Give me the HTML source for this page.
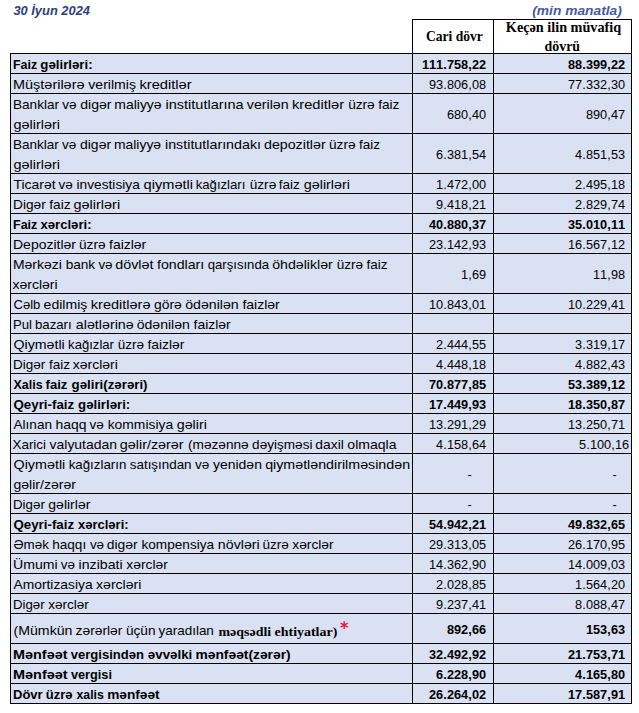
<!DOCTYPE html><html><head><meta charset="utf-8"><title>t</title><style>

html,body{margin:0;padding:0;background:#fff;}
body{width:639px;height:713px;position:relative;overflow:hidden;font-family:"Liberation Sans",sans-serif;color:#000;}
.abs{position:absolute;}
.row{position:absolute;left:10px;width:622px;background:#d9e1f2;border-top:1px solid #000;box-sizing:border-box;}
.c{position:absolute;top:0;bottom:0;box-sizing:border-box;white-space:nowrap;font-size:13.4px;}
.c1{left:0;width:402px;border-left:1px solid #000;padding-left:2px;}
.w{display:inline-block;white-space:nowrap;vertical-align:top;text-align:left;}
.w span{display:inline-block;transform-origin:0 50%;}
.c2{left:402px;width:81px;border-left:1px solid #000;text-align:right;padding-right:6px;}
.c3{left:483px;width:139px;border-left:1px solid #000;border-right:1px solid #000;text-align:right;padding-right:5px;}
.b{font-weight:bold;}
.n{position:absolute;top:1px;white-space:nowrap;font-size:13.4px;}
.n i,.n u{display:inline-block;font-style:normal;text-decoration:none;text-align:center;transform:scaleX(0.95);}
.n i{width:11px;margin:0 -2px;}
.n u{width:8px;margin:0 -2px;}
.t{display:inline-block;transform-origin:0 50%;position:relative;top:1px;}
.r .t{transform-origin:100% 50%;}
.hd{position:absolute;box-sizing:border-box;border:1px solid #000;border-bottom:none;background:#fff;font-family:"Liberation Serif",serif;font-weight:bold;font-size:14px;text-align:center;white-space:nowrap;}
.hl{position:absolute;left:0;right:0;line-height:16px;height:16px;text-align:center;transform-origin:50% 50%;}

</style></head><body>
<div class="abs" style="left:13px;top:2.7px;font-size:13.4px;font-weight:bold;font-style:italic;color:#2c3e80;white-space:nowrap;"><span class="t" id="title" style="top:0;transform:translateX(0.40px) scaleX(0.9612);">30 İyun 2024</span></div>
<div class="abs" style="left:532px;top:3px;font-size:13.4px;font-weight:bold;font-style:italic;color:#4559a2;white-space:nowrap;"><span class="t" id="unit" style="top:0;transform:translateX(0.20px) scaleX(1.0296);">(min manatla)</span></div>
<div class="hd" style="left:412px;top:19px;width:82px;height:34px;"><span class="hl" id="h1" style="top:9.3px;transform:translateX(1.40px) scaleX(0.9671);">Cari dövr</span></div>
<div class="hd" style="left:493px;top:19px;width:139px;height:34px;"><span class="hl" id="h2a" style="top:0.2px;transform:translateX(1.00px) scaleX(1.0159);">Keçən ilin müvafiq</span><span class="hl" id="h2b" style="top:19.2px;transform:translateX(-0.20px) scaleX(0.9919);">dövrü</span></div>
<div class="row b" style="top:53px;height:20px;">
<div class="c c1" style="line-height:19px;"><div style="height:20px"><span class="t" id="a0" style="transform:translateX(0.00px) scaleX(1.0117);"><span class="w" style="width:27.33px"><span style="transform:scaleX(0.9187)">Faiz</span></span><span class="w" style="width:51.69px"><span style="transform:scaleX(0.9776)">gəlirləri:</span></span></span></div></div>
<div class="n" id="b0" style="right:146px;line-height:19px;"><i>1</i><i>1</i><i>1</i><u>.</u><i>7</i><i>5</i><i>8</i><u>,</u><i>2</i><i>2</i></div>
<div class="n" id="c0" style="right:6.6px;line-height:19px;"><i>8</i><i>8</i><u>.</u><i>3</i><i>9</i><i>9</i><u>,</u><i>2</i><i>2</i></div>
<div class="c c2"></div><div class="c c3"></div>
</div>
<div class="row" style="top:73px;height:20px;">
<div class="c c1" style="line-height:19px;"><div style="height:20px"><span class="t" id="a1" style="transform:translateX(0.00px) scaleX(1.0033);"><span class="w" style="width:74.72px"><span style="transform:scaleX(1.0763)">Müştərilərə</span></span><span class="w" style="width:51.04px"><span style="transform:scaleX(1.0492)">verilmiş</span></span><span class="w" style="width:51.99px"><span style="transform:scaleX(1.0910)">kreditlər</span></span></span></div></div>
<div class="n" id="b1" style="right:146px;line-height:19px;"><i>9</i><i>3</i><u>.</u><i>8</i><i>0</i><i>6</i><u>,</u><i>0</i><i>8</i></div>
<div class="n" id="c1" style="right:6.6px;line-height:19px;"><i>7</i><i>7</i><u>.</u><i>3</i><i>3</i><i>2</i><u>,</u><i>3</i><i>0</i></div>
<div class="c c2"></div><div class="c c3"></div>
</div>
<div class="row" style="top:93px;height:40px;">
<div class="c c1" style="line-height:19px;"><div style="height:20px"><span class="t" id="a2" style="transform:translateX(0.00px) scaleX(1.0034);"><span class="w" style="width:49.29px"><span style="transform:scaleX(1.0103)">Banklar</span></span><span class="w" style="width:17.63px"><span style="transform:scaleX(1.0061)">və</span></span><span class="w" style="width:34.47px"><span style="transform:scaleX(1.0430)">digər</span></span><span class="w" style="width:50.49px"><span style="transform:scaleX(1.0368)">maliyyə</span></span><span class="w" style="width:81.34px"><span style="transform:scaleX(1.0790)">institutlarına</span></span><span class="w" style="width:45.09px"><span style="transform:scaleX(1.0563)">verilən</span></span><span class="w" style="width:55.39px"><span style="transform:scaleX(1.0910)">kreditlər</span></span><span class="w" style="width:29.89px"><span style="transform:scaleX(1.0166)">üzrə</span></span><span class="w" style="width:21.13px"><span style="transform:scaleX(1.0133)">faiz</span></span></span></div><div style="height:20px"><span class="t" id="a2_1" style="transform:translateX(0.50px) scaleX(1.0047);"><span class="w" style="width:46.22px"><span style="transform:scaleX(1.0701)">gəlirləri</span></span></span></div></div>
<div class="n" id="b2" style="right:146px;line-height:39px;"><i>6</i><i>8</i><i>0</i><u>,</u><i>4</i><i>0</i></div>
<div class="n" id="c2" style="right:6.6px;line-height:39px;"><i>8</i><i>9</i><i>0</i><u>,</u><i>4</i><i>7</i></div>
<div class="c c2"></div><div class="c c3"></div>
</div>
<div class="row" style="top:133px;height:40px;">
<div class="c c1" style="line-height:19px;"><div style="height:20px"><span class="t" id="a3" style="transform:translateX(0.00px) scaleX(1.0000);"><span class="w" style="width:49.29px"><span style="transform:scaleX(1.0103)">Banklar</span></span><span class="w" style="width:17.63px"><span style="transform:scaleX(1.0061)">və</span></span><span class="w" style="width:34.47px"><span style="transform:scaleX(1.0430)">digər</span></span><span class="w" style="width:50.49px"><span style="transform:scaleX(1.0368)">maliyyə</span></span><span class="w" style="width:99.48px"><span style="transform:scaleX(1.0663)">institutlarındakı</span></span><span class="w" style="width:65.05px"><span style="transform:scaleX(1.0613)">depozitlər</span></span><span class="w" style="width:29.89px"><span style="transform:scaleX(1.0166)">üzrə</span></span><span class="w" style="width:21.13px"><span style="transform:scaleX(1.0133)">faiz</span></span></span></div><div style="height:20px"><span class="t" id="a3_1" style="transform:translateX(0.50px) scaleX(1.0047);"><span class="w" style="width:46.22px"><span style="transform:scaleX(1.0701)">gəlirləri</span></span></span></div></div>
<div class="n" id="b3" style="right:146px;line-height:39px;"><i>6</i><u>.</u><i>3</i><i>8</i><i>1</i><u>,</u><i>5</i><i>4</i></div>
<div class="n" id="c3" style="right:6.6px;line-height:39px;"><i>4</i><u>.</u><i>8</i><i>5</i><i>1</i><u>,</u><i>5</i><i>3</i></div>
<div class="c c2"></div><div class="c c3"></div>
</div>
<div class="row" style="top:173px;height:20px;">
<div class="c c1" style="line-height:19px;"><div style="height:20px"><span class="t" id="a4" style="transform:translateX(0.50px) scaleX(1.0009);"><span class="w" style="width:45.39px"><span style="transform:scaleX(1.0381)">Ticarət</span></span><span class="w" style="width:17.63px"><span style="transform:scaleX(1.0061)">və</span></span><span class="w" style="width:66.57px"><span style="transform:scaleX(1.0221)">investisiya</span></span><span class="w" style="width:52.86px"><span style="transform:scaleX(1.0891)">qiymətli</span></span><span class="w" style="width:53.12px"><span style="transform:scaleX(0.9820)">kağızları</span></span><span class="w" style="width:29.89px"><span style="transform:scaleX(1.0166)">üzrə</span></span><span class="w" style="width:24.52px"><span style="transform:scaleX(1.0133)">faiz</span></span><span class="w" style="width:46.22px"><span style="transform:scaleX(1.0701)">gəlirləri</span></span></span></div></div>
<div class="n" id="b4" style="right:146px;line-height:19px;"><i>1</i><u>.</u><i>4</i><i>7</i><i>2</i><u>,</u><i>0</i><i>0</i></div>
<div class="n" id="c4" style="right:6.6px;line-height:19px;"><i>2</i><u>.</u><i>4</i><i>9</i><i>5</i><u>,</u><i>1</i><i>8</i></div>
<div class="c c2"></div><div class="c c3"></div>
</div>
<div class="row" style="top:193px;height:20px;">
<div class="c c1" style="line-height:19px;"><div style="height:20px"><span class="t" id="a5" style="transform:translateX(0.00px) scaleX(1.0087);"><span class="w" style="width:35.82px"><span style="transform:scaleX(1.0126)">Digər</span></span><span class="w" style="width:24.52px"><span style="transform:scaleX(1.0133)">faiz</span></span><span class="w" style="width:46.22px"><span style="transform:scaleX(1.0701)">gəlirləri</span></span></span></div></div>
<div class="n" id="b5" style="right:146px;line-height:19px;"><i>9</i><u>.</u><i>4</i><i>1</i><i>8</i><u>,</u><i>2</i><i>1</i></div>
<div class="n" id="c5" style="right:6.6px;line-height:19px;"><i>2</i><u>.</u><i>8</i><i>2</i><i>9</i><u>,</u><i>7</i><i>4</i></div>
<div class="c c2"></div><div class="c c3"></div>
</div>
<div class="row b" style="top:213px;height:20px;">
<div class="c c1" style="line-height:19px;"><div style="height:20px"><span class="t" id="a6" style="transform:translateX(0.00px) scaleX(1.0156);"><span class="w" style="width:27.33px"><span style="transform:scaleX(0.9187)">Faiz</span></span><span class="w" style="width:50.37px"><span style="transform:scaleX(0.9659)">xərcləri:</span></span></span></div></div>
<div class="n" id="b6" style="right:146px;line-height:19px;"><i>4</i><i>0</i><u>.</u><i>8</i><i>8</i><i>0</i><u>,</u><i>3</i><i>7</i></div>
<div class="n" id="c6" style="right:6.6px;line-height:19px;"><i>3</i><i>5</i><u>.</u><i>0</i><i>1</i><i>0</i><u>,</u><i>1</i><i>1</i></div>
<div class="c c2"></div><div class="c c3"></div>
</div>
<div class="row" style="top:233px;height:20px;">
<div class="c c1" style="line-height:19px;"><div style="height:20px"><span class="t" id="a7" style="transform:translateX(0.00px) scaleX(1.0000);"><span class="w" style="width:66.40px"><span style="transform:scaleX(1.0445)">Depozitlər</span></span><span class="w" style="width:29.89px"><span style="transform:scaleX(1.0166)">üzrə</span></span><span class="w" style="width:37.27px"><span style="transform:scaleX(1.0426)">faizlər</span></span></span></div></div>
<div class="n" id="b7" style="right:146px;line-height:19px;"><i>2</i><i>3</i><u>.</u><i>1</i><i>4</i><i>2</i><u>,</u><i>9</i><i>3</i></div>
<div class="n" id="c7" style="right:6.6px;line-height:19px;"><i>1</i><i>6</i><u>.</u><i>5</i><i>6</i><i>7</i><u>,</u><i>1</i><i>2</i></div>
<div class="c c2"></div><div class="c c3"></div>
</div>
<div class="row" style="top:253px;height:40px;">
<div class="c c1" style="line-height:19px;"><div style="height:20px"><span class="t" id="a8" style="transform:translateX(0.00px) scaleX(0.9931);"><span class="w" style="width:52.56px"><span style="transform:scaleX(1.0482)">Mərkəzi</span></span><span class="w" style="width:33.16px"><span style="transform:scaleX(1.0244)">bank</span></span><span class="w" style="width:17.63px"><span style="transform:scaleX(1.0061)">və</span></span><span class="w" style="width:41.89px"><span style="transform:scaleX(1.0766)">dövlət</span></span><span class="w" style="width:50.94px"><span style="transform:scaleX(1.0639)">fondları</span></span><span class="w" style="width:65.25px"><span style="transform:scaleX(0.9887)">qarşısında</span></span><span class="w" style="width:64.37px"><span style="transform:scaleX(1.0631)">öhdəliklər</span></span><span class="w" style="width:29.89px"><span style="transform:scaleX(1.0166)">üzrə</span></span><span class="w" style="width:21.13px"><span style="transform:scaleX(1.0133)">faiz</span></span></span></div><div style="height:20px"><span class="t" id="a8_1" style="transform:translateX(-0.50px) scaleX(1.0000);"><span class="w" style="width:45.11px"><span style="transform:scaleX(1.0446)">xərcləri</span></span></span></div></div>
<div class="n" id="b8" style="right:146px;line-height:39px;"><i>1</i><u>,</u><i>6</i><i>9</i></div>
<div class="n" id="c8" style="right:6.6px;line-height:39px;"><i>1</i><i>1</i><u>,</u><i>9</i><i>8</i></div>
<div class="c c2"></div><div class="c c3"></div>
</div>
<div class="row" style="top:293px;height:20px;">
<div class="c c1" style="line-height:19px;"><div style="height:20px"><span class="t" id="a9" style="transform:translateX(0.50px) scaleX(1.0039);"><span class="w" style="width:30.18px"><span style="transform:scaleX(0.9719)">Cəlb</span></span><span class="w" style="width:46.91px"><span style="transform:scaleX(1.0437)">edilmiş</span></span><span class="w" style="width:62.85px"><span style="transform:scaleX(1.0789)">kreditlərə</span></span><span class="w" style="width:31.05px"><span style="transform:scaleX(1.0315)">görə</span></span><span class="w" style="width:56.76px"><span style="transform:scaleX(1.0532)">ödənilən</span></span><span class="w" style="width:37.27px"><span style="transform:scaleX(1.0426)">faizlər</span></span></span></div></div>
<div class="n" id="b9" style="right:146px;line-height:19px;"><i>1</i><i>0</i><u>.</u><i>8</i><i>4</i><i>3</i><u>,</u><i>0</i><i>1</i></div>
<div class="n" id="c9" style="right:6.6px;line-height:19px;"><i>1</i><i>0</i><u>.</u><i>2</i><i>2</i><i>9</i><u>,</u><i>4</i><i>1</i></div>
<div class="c c2"></div><div class="c c3"></div>
</div>
<div class="row" style="top:313px;height:20px;">
<div class="c c1" style="line-height:19px;"><div style="height:20px"><span class="t" id="a10" style="transform:translateX(0.00px) scaleX(0.9974);"><span class="w" style="width:22.46px"><span style="transform:scaleX(0.9848)">Pul</span></span><span class="w" style="width:40.24px"><span style="transform:scaleX(0.9894)">bazarı</span></span><span class="w" style="width:61.43px"><span style="transform:scaleX(1.0673)">alətlərinə</span></span><span class="w" style="width:56.76px"><span style="transform:scaleX(1.0532)">ödənilən</span></span><span class="w" style="width:37.27px"><span style="transform:scaleX(1.0426)">faizlər</span></span></span></div></div>
<div class="n" id="b10" style="right:146px;line-height:19px;"></div>
<div class="n" id="c10" style="right:6.6px;line-height:19px;"></div>
<div class="c c2"></div><div class="c c3"></div>
</div>
<div class="row" style="top:333px;height:20px;">
<div class="c c1" style="line-height:19px;"><div style="height:20px"><span class="t" id="a11" style="transform:translateX(0.50px) scaleX(0.9922);"><span class="w" style="width:55.07px"><span style="transform:scaleX(1.0679)">Qiymətli</span></span><span class="w" style="width:49.68px"><span style="transform:scaleX(0.9866)">kağızlar</span></span><span class="w" style="width:29.89px"><span style="transform:scaleX(1.0166)">üzrə</span></span><span class="w" style="width:37.27px"><span style="transform:scaleX(1.0426)">faizlər</span></span></span></div></div>
<div class="n" id="b11" style="right:146px;line-height:19px;"><i>2</i><u>.</u><i>4</i><i>4</i><i>4</i><u>,</u><i>5</i><i>5</i></div>
<div class="n" id="c11" style="right:6.6px;line-height:19px;"><i>3</i><u>.</u><i>3</i><i>1</i><i>9</i><u>,</u><i>1</i><i>7</i></div>
<div class="c c2"></div><div class="c c3"></div>
</div>
<div class="row" style="top:353px;height:20px;">
<div class="c c1" style="line-height:19px;"><div style="height:20px"><span class="t" id="a12" style="transform:translateX(0.00px) scaleX(0.9973);"><span class="w" style="width:35.82px"><span style="transform:scaleX(1.0126)">Digər</span></span><span class="w" style="width:24.52px"><span style="transform:scaleX(1.0133)">faiz</span></span><span class="w" style="width:45.11px"><span style="transform:scaleX(1.0446)">xərcləri</span></span></span></div></div>
<div class="n" id="b12" style="right:146px;line-height:19px;"><i>4</i><u>.</u><i>4</i><i>4</i><i>8</i><u>,</u><i>1</i><i>8</i></div>
<div class="n" id="c12" style="right:6.6px;line-height:19px;"><i>4</i><u>.</u><i>8</i><i>8</i><i>2</i><u>,</u><i>4</i><i>3</i></div>
<div class="c c2"></div><div class="c c3"></div>
</div>
<div class="row b" style="top:373px;height:20px;">
<div class="c c1" style="line-height:19px;"><div style="height:20px"><span class="t" id="a13" style="transform:translateX(0.50px) scaleX(1.0021);"><span class="w" style="width:32.43px"><span style="transform:scaleX(0.9282)">Xalis</span></span><span class="w" style="width:25.20px"><span style="transform:scaleX(0.9761)">faiz</span></span><span class="w" style="width:75.79px"><span style="transform:scaleX(0.9881)">gəliri(zərəri)</span></span></span></div></div>
<div class="n" id="b13" style="right:146px;line-height:19px;"><i>7</i><i>0</i><u>.</u><i>8</i><i>7</i><i>7</i><u>,</u><i>8</i><i>5</i></div>
<div class="n" id="c13" style="right:6.6px;line-height:19px;"><i>5</i><i>3</i><u>.</u><i>3</i><i>8</i><i>9</i><u>,</u><i>1</i><i>2</i></div>
<div class="c c2"></div><div class="c c3"></div>
</div>
<div class="row b" style="top:393px;height:20px;">
<div class="c c1" style="line-height:19px;"><div style="height:20px"><span class="t" id="a14" style="transform:translateX(0.50px) scaleX(1.0094);"><span class="w" style="width:63.58px"><span style="transform:scaleX(0.9857)">Qeyri-faiz</span></span><span class="w" style="width:51.69px"><span style="transform:scaleX(0.9776)">gəlirləri:</span></span></span></div></div>
<div class="n" id="b14" style="right:146px;line-height:19px;"><i>1</i><i>7</i><u>.</u><i>4</i><i>4</i><i>9</i><u>,</u><i>9</i><i>3</i></div>
<div class="n" id="c14" style="right:6.6px;line-height:19px;"><i>1</i><i>8</i><u>.</u><i>3</i><i>5</i><i>0</i><u>,</u><i>8</i><i>7</i></div>
<div class="c c2"></div><div class="c c3"></div>
</div>
<div class="row" style="top:413px;height:20px;">
<div class="c c1" style="line-height:19px;"><div style="height:20px"><span class="t" id="a15" style="transform:translateX(0.50px) scaleX(1.0015);"><span class="w" style="width:41.90px"><span style="transform:scaleX(1.0136)">Alınan</span></span><span class="w" style="width:34.22px"><span style="transform:scaleX(1.0341)">haqq</span></span><span class="w" style="width:17.63px"><span style="transform:scaleX(1.0061)">və</span></span><span class="w" style="width:68.81px"><span style="transform:scaleX(1.0338)">kommisiya</span></span><span class="w" style="width:30.08px"><span style="transform:scaleX(1.0630)">gəliri</span></span></span></div></div>
<div class="n" id="b15" style="right:146px;line-height:19px;"><i>1</i><i>3</i><u>.</u><i>2</i><i>9</i><i>1</i><u>,</u><i>2</i><i>9</i></div>
<div class="n" id="c15" style="right:6.6px;line-height:19px;"><i>1</i><i>3</i><u>.</u><i>2</i><i>5</i><i>0</i><u>,</u><i>7</i><i>1</i></div>
<div class="c c2"></div><div class="c c3"></div>
</div>
<div class="row" style="top:433px;height:20px;">
<div class="c c1" style="line-height:19px;"><div style="height:20px"><span class="t" id="a16" style="transform:translateX(-0.50px) scaleX(1.0026);"><span class="w" style="width:36.82px"><span style="transform:scaleX(0.9976)">Xarici</span></span><span class="w" style="width:70.62px"><span style="transform:scaleX(1.0373)">valyutadan</span></span><span class="w" style="width:67.13px"><span style="transform:scaleX(1.0700)">gəlir/zərər</span></span><span class="w" style="width:64.00px"><span style="transform:scaleX(1.0171)">(məzənnə</span></span><span class="w" style="width:63.59px"><span style="transform:scaleX(1.0105)">dəyişməsi</span></span><span class="w" style="width:31.84px"><span style="transform:scaleX(1.0322)">daxil</span></span><span class="w" style="width:49.03px"><span style="transform:scaleX(1.0448)">olmaqla</span></span></span></div></div>
<div class="n" id="b16" style="right:146px;line-height:19px;"><i>4</i><u>.</u><i>1</i><i>5</i><i>8</i><u>,</u><i>6</i><i>4</i></div>
<div class="n" id="c16" style="right:3px;line-height:19px;"><i>5</i><u>.</u><i>1</i><i>0</i><i>0</i><u>,</u><i>1</i><i>6</i></div>
<div class="c c2"></div><div class="c c3"></div>
</div>
<div class="row" style="top:453px;height:40px;">
<div class="c c1" style="line-height:19px;"><div style="height:20px"><span class="t" id="a17" style="transform:translateX(0.50px) scaleX(1.0025);"><span class="w" style="width:55.07px"><span style="transform:scaleX(1.0679)">Qiymətli</span></span><span class="w" style="width:61.00px"><span style="transform:scaleX(0.9917)">kağızların</span></span><span class="w" style="width:65.05px"><span style="transform:scaleX(0.9972)">satışından</span></span><span class="w" style="width:17.63px"><span style="transform:scaleX(1.0061)">və</span></span><span class="w" style="width:52.19px"><span style="transform:scaleX(1.0397)">yenidən</span></span><span class="w" style="width:144.67px"><span style="transform:scaleX(1.0614)">qiymətləndirilməsindən</span></span></span></div><div style="height:20px"><span class="t" id="a17_1" style="transform:translateX(0.50px) scaleX(0.9793);"><span class="w" style="width:63.74px"><span style="transform:scaleX(1.0700)">gəlir/zərər</span></span></span></div></div>
<div class="n" id="b17" style="right:159.5px;line-height:39px;"><i>-</i></div>
<div class="n" id="c17" style="right:13.8px;line-height:39px;"><i>-</i></div>
<div class="c c2"></div><div class="c c3"></div>
</div>
<div class="row" style="top:493px;height:20px;">
<div class="c c1" style="line-height:19px;"><div style="height:20px"><span class="t" id="a18" style="transform:translateX(0.00px) scaleX(0.9818);"><span class="w" style="width:35.82px"><span style="transform:scaleX(1.0126)">Digər</span></span><span class="w" style="width:42.77px"><span style="transform:scaleX(1.0637)">gəlirlər</span></span></span></div></div>
<div class="n" id="b18" style="right:159.5px;line-height:19px;"><i>-</i></div>
<div class="n" id="c18" style="right:13.8px;line-height:19px;"><i>-</i></div>
<div class="c c2"></div><div class="c c3"></div>
</div>
<div class="row b" style="top:513px;height:20px;">
<div class="c c1" style="line-height:19px;"><div style="height:20px"><span class="t" id="a19" style="transform:translateX(0.50px) scaleX(1.0066);"><span class="w" style="width:63.58px"><span style="transform:scaleX(0.9857)">Qeyri-faiz</span></span><span class="w" style="width:50.37px"><span style="transform:scaleX(0.9659)">xərcləri:</span></span></span></div></div>
<div class="n" id="b19" style="right:146px;line-height:19px;"><i>5</i><i>4</i><u>.</u><i>9</i><i>4</i><i>2</i><u>,</u><i>2</i><i>1</i></div>
<div class="n" id="c19" style="right:6.6px;line-height:19px;"><i>4</i><i>9</i><u>.</u><i>8</i><i>3</i><i>2</i><u>,</u><i>6</i><i>5</i></div>
<div class="c c2"></div><div class="c c3"></div>
</div>
<div class="row" style="top:533px;height:20px;">
<div class="c c1" style="line-height:19px;"><div style="height:20px"><span class="t" id="a20" style="transform:translateX(0.50px) scaleX(0.9921);"><span class="w" style="width:39.15px"><span style="transform:scaleX(1.0102)">Əmək</span></span><span class="w" style="width:37.66px"><span style="transform:scaleX(1.0220)">haqqı</span></span><span class="w" style="width:17.63px"><span style="transform:scaleX(1.0061)">və</span></span><span class="w" style="width:34.47px"><span style="transform:scaleX(1.0430)">digər</span></span><span class="w" style="width:76.61px"><span style="transform:scaleX(1.0240)">kompensiya</span></span><span class="w" style="width:45.53px"><span style="transform:scaleX(1.0676)">növləri</span></span><span class="w" style="width:29.89px"><span style="transform:scaleX(1.0166)">üzrə</span></span><span class="w" style="width:41.67px"><span style="transform:scaleX(1.0363)">xərclər</span></span></span></div></div>
<div class="n" id="b20" style="right:146px;line-height:19px;"><i>2</i><i>9</i><u>.</u><i>3</i><i>1</i><i>3</i><u>,</u><i>0</i><i>5</i></div>
<div class="n" id="c20" style="right:6.6px;line-height:19px;"><i>2</i><i>6</i><u>.</u><i>1</i><i>7</i><i>0</i><u>,</u><i>9</i><i>5</i></div>
<div class="c c2"></div><div class="c c3"></div>
</div>
<div class="row" style="top:553px;height:20px;">
<div class="c c1" style="line-height:19px;"><div style="height:20px"><span class="t" id="a21" style="transform:translateX(0.00px) scaleX(0.9942);"><span class="w" style="width:48.30px"><span style="transform:scaleX(1.0585)">Ümumi</span></span><span class="w" style="width:17.63px"><span style="transform:scaleX(1.0061)">və</span></span><span class="w" style="width:47.61px"><span style="transform:scaleX(1.0602)">inzibati</span></span><span class="w" style="width:41.67px"><span style="transform:scaleX(1.0363)">xərclər</span></span></span></div></div>
<div class="n" id="b21" style="right:146px;line-height:19px;"><i>1</i><i>4</i><u>.</u><i>3</i><i>6</i><i>2</i><u>,</u><i>9</i><i>0</i></div>
<div class="n" id="c21" style="right:6.6px;line-height:19px;"><i>1</i><i>4</i><u>.</u><i>0</i><i>0</i><i>9</i><u>,</u><i>0</i><i>3</i></div>
<div class="c c2"></div><div class="c c3"></div>
</div>
<div class="row" style="top:573px;height:20px;">
<div class="c c1" style="line-height:19px;"><div style="height:20px"><span class="t" id="a22" style="transform:translateX(0.50px) scaleX(1.0064);"><span class="w" style="width:82.05px"><span style="transform:scaleX(1.0256)">Amortizasiya</span></span><span class="w" style="width:45.11px"><span style="transform:scaleX(1.0446)">xərcləri</span></span></span></div></div>
<div class="n" id="b22" style="right:146px;line-height:19px;"><i>2</i><u>.</u><i>0</i><i>2</i><i>8</i><u>,</u><i>8</i><i>5</i></div>
<div class="n" id="c22" style="right:6.6px;line-height:19px;"><i>1</i><u>.</u><i>5</i><i>6</i><i>4</i><u>,</u><i>2</i><i>0</i></div>
<div class="c c2"></div><div class="c c3"></div>
</div>
<div class="row" style="top:593px;height:20px;">
<div class="c c1" style="line-height:19px;"><div style="height:20px"><span class="t" id="a23" style="transform:translateX(0.00px) scaleX(0.9757);"><span class="w" style="width:35.82px"><span style="transform:scaleX(1.0126)">Digər</span></span><span class="w" style="width:41.67px"><span style="transform:scaleX(1.0363)">xərclər</span></span></span></div></div>
<div class="n" id="b23" style="right:146px;line-height:19px;"><i>9</i><u>.</u><i>2</i><i>3</i><i>7</i><u>,</u><i>4</i><i>1</i></div>
<div class="n" id="c23" style="right:6.6px;line-height:19px;"><i>8</i><u>.</u><i>0</i><i>8</i><i>8</i><u>,</u><i>4</i><i>7</i></div>
<div class="c c2"></div><div class="c c3"></div>
</div>
<div class="row b" style="top:613px;height:30px;">
<div class="c c1" style="line-height:29px;padding-top:1px;"><span class="t" id="a24" style="font-weight:normal;transform:translateX(0.50px) scaleX(0.9861);"><span class="w" style="width:63.21px"><span style="transform:scaleX(1.0711)">(Mümkün</span></span><span class="w" style="width:50.84px"><span style="transform:scaleX(1.0446)">zərərlər</span></span><span class="w" style="width:33.38px"><span style="transform:scaleX(1.0319)">üçün</span></span><span class="w" style="width:56.22px"><span style="transform:scaleX(1.0199)">yaradılan</span></span></span><span class="t" id="s24" style="font-family:'Liberation Serif',serif;font-size:12.6px;margin-left:5px;top:1.6px;transform:translateX(-3.50px) scaleX(1.1061);">məqsədli ehtiyatlar)</span></div>
<svg class="abs" style="left:330.3px;top:6.8px;" width="9" height="9" viewBox="0 0 9 9"><g stroke="#ee1c3a" stroke-width="1.5" stroke-linecap="butt"><path d="M4.2 0.3V8.0M0.6 2.2L7.8 6.1M7.8 2.2L0.6 6.1"/></g></svg>
<div class="n" id="b24" style="right:146px;line-height:29px;"><i>8</i><i>9</i><i>2</i><u>,</u><i>6</i><i>6</i></div>
<div class="n" id="c24" style="right:6.6px;line-height:29px;"><i>1</i><i>5</i><i>3</i><u>,</u><i>6</i><i>3</i></div>
<div class="c c2"></div><div class="c c3"></div>
</div>
<div class="row b" style="top:643px;height:20px;">
<div class="c c1" style="line-height:19px;"><div style="height:20px"><span class="t" id="a25" style="transform:translateX(0.00px) scaleX(1.0138);"><span class="w" style="width:57.15px"><span style="transform:scaleX(1.0618)">Mənfəət</span></span><span class="w" style="width:75.54px"><span style="transform:scaleX(0.9593)">vergisindən</span></span><span class="w" style="width:47.25px"><span style="transform:scaleX(0.9810)">əvvəlki</span></span><span class="w" style="width:93.90px"><span style="transform:scaleX(1.0169)">mənfəət(zərər)</span></span></span></div></div>
<div class="n" id="b25" style="right:146px;line-height:19px;"><i>3</i><i>2</i><u>.</u><i>4</i><i>9</i><i>2</i><u>,</u><i>9</i><i>2</i></div>
<div class="n" id="c25" style="right:6.6px;line-height:19px;"><i>2</i><i>1</i><u>.</u><i>7</i><i>5</i><i>3</i><u>,</u><i>7</i><i>1</i></div>
<div class="c c2"></div><div class="c c3"></div>
</div>
<div class="row b" style="top:663px;height:20px;">
<div class="c c1" style="line-height:19px;"><div style="height:20px"><span class="t" id="a26" style="transform:translateX(0.00px) scaleX(1.0158);"><span class="w" style="width:57.15px"><span style="transform:scaleX(1.0618)">Mənfəət</span></span><span class="w" style="width:40.44px"><span style="transform:scaleX(0.9360)">vergisi</span></span></span></div></div>
<div class="n" id="b26" style="right:146px;line-height:19px;"><i>6</i><u>.</u><i>2</i><i>2</i><i>8</i><u>,</u><i>9</i><i>0</i></div>
<div class="n" id="c26" style="right:6.6px;line-height:19px;"><i>4</i><u>.</u><i>1</i><i>6</i><i>5</i><u>,</u><i>8</i><i>0</i></div>
<div class="c c2"></div><div class="c c3"></div>
</div>
<div class="row b" style="top:683px;height:20px;">
<div class="c c1" style="line-height:19px;"><div style="height:20px"><span class="t" id="a27" style="transform:translateX(0.00px) scaleX(0.9918);"><span class="w" style="width:33.33px"><span style="transform:scaleX(0.9805)">Dövr</span></span><span class="w" style="width:30.28px"><span style="transform:scaleX(0.9759)">üzrə</span></span><span class="w" style="width:31.04px"><span style="transform:scaleX(0.9277)">xalis</span></span><span class="w" style="width:52.83px"><span style="transform:scaleX(1.0282)">mənfəət</span></span></span></div></div>
<div class="n" id="b27" style="right:146px;line-height:19px;"><i>2</i><i>6</i><u>.</u><i>2</i><i>6</i><i>4</i><u>,</u><i>0</i><i>2</i></div>
<div class="n" id="c27" style="right:6.6px;line-height:19px;"><i>1</i><i>7</i><u>.</u><i>5</i><i>8</i><i>7</i><u>,</u><i>9</i><i>1</i></div>
<div class="c c2"></div><div class="c c3"></div>
</div>
<div class="abs" style="left:10px;top:703px;width:622px;height:1px;background:#000;"></div>
</body></html>
